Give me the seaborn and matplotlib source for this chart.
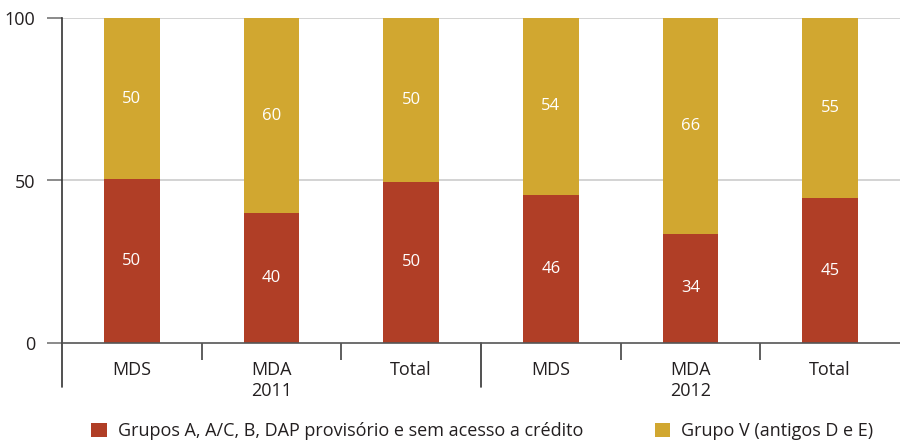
import matplotlib
matplotlib.use("Agg")
import matplotlib.pyplot as plt
import matplotlib.transforms as mtransforms
import seaborn as sns
import pandas as pd

# Data
categories = ["MDS", "MDA", "Total", "MDS", "MDA", "Total"]
years = ["2011", "2012"]
grupos_abc = [50.4, 40.0, 49.6, 45.6, 33.6, 44.6]
grupo_v = [100 - v for v in grupos_abc]
series_names = ["Grupos A, A/C, B, DAP provisório e sem acesso a crédito",
                "Grupo V (antigos D e E)"]

RED = "#B03E26"
GOLD = "#D1A730"
TXT = "#231F20"

sns.set_theme(style="white")
plt.rcParams['font.family'] = ['Open Sans', 'DejaVu Sans']

keys = [f"{c} {i}" for i, c in enumerate(categories)]
df = pd.DataFrame({"key": keys, "red": grupos_abc, "gold": grupo_v})

fig = plt.figure(figsize=(9, 4.44), dpi=100)
ax = fig.add_axes([62/900, 1-343/444, 1-62/900, (343-18)/444])

sns.barplot(data=df, x="key", y="red", color=RED, width=0.4, ax=ax,
            saturation=1, order=keys, linewidth=0)
sns.barplot(data=df, x="key", y="gold", color=GOLD, width=0.4, ax=ax,
            saturation=1, order=keys, bottom=df["red"].values, linewidth=0)

ax.set_xlim(-0.5, 5.5)
ax.set_ylim(0, 100)
ax.set_xlabel("")
ax.set_ylabel("")

# grid
for yv in [50, 100]:
    ax.axhline(yv, color="#CCCCCC", lw=1.2, zorder=0)

for s in ["top", "right"]:
    ax.spines[s].set_visible(False)
ax.spines["left"].set_color("#333333")
ax.spines["bottom"].set_color("#555555")
ax.spines["left"].set_linewidth(1.2)
ax.spines["bottom"].set_linewidth(1.2)

ax.set_yticks([0, 50, 100])
ax.set_yticklabels(["0", "50", "100"], fontsize=13, color=TXT)
ax.tick_params(axis="y", length=11, width=1.2, color="#777777", pad=8, left=True)

ax.set_xticks(range(6))
ax.set_xticklabels(categories, fontsize=13, color=TXT)
ax.tick_params(axis="x", length=0, pad=13)
ax.set_xticks([0.5, 1.5, 3.5, 4.5], minor=True)
ax.tick_params(axis="x", which="minor", length=12.5, width=1.1, color="#333333", bottom=True)

trans = mtransforms.blended_transform_factory(ax.transData, ax.transAxes)
for xv in [-0.5, 2.5]:
    ax.plot([xv, xv], [0, -44/325], transform=trans, color="#333333", lw=1.2,
            clip_on=False)

for xi, yr in zip([1, 4], years):
    ax.text(xi, -48/325, yr, transform=trans, ha="center", va="center",
            fontsize=13, color=TXT)

# value labels
for i in range(6):
    r = grupos_abc[i]
    g = grupo_v[i]
    ax.text(i, r/2, f"{r:.0f}", ha="center", va="center", color="white", fontsize=12)
    ax.text(i, r + g/2, f"{g:.0f}", ha="center", va="center", color="white", fontsize=12)

# legend
from matplotlib.patches import Patch
handles = [Patch(facecolor=RED, edgecolor="none"), Patch(facecolor=GOLD, edgecolor="none")]
leg = fig.legend(handles, series_names, loc="lower center", bbox_to_anchor=(0.536, -0.028),
                 ncol=2, frameon=False, fontsize=13, handlelength=0.85, handleheight=0.85,
                 columnspacing=4.0, handletextpad=0.6)
for t in leg.get_texts():
    t.set_color(TXT)

fig.savefig("out.png", dpi=100)
